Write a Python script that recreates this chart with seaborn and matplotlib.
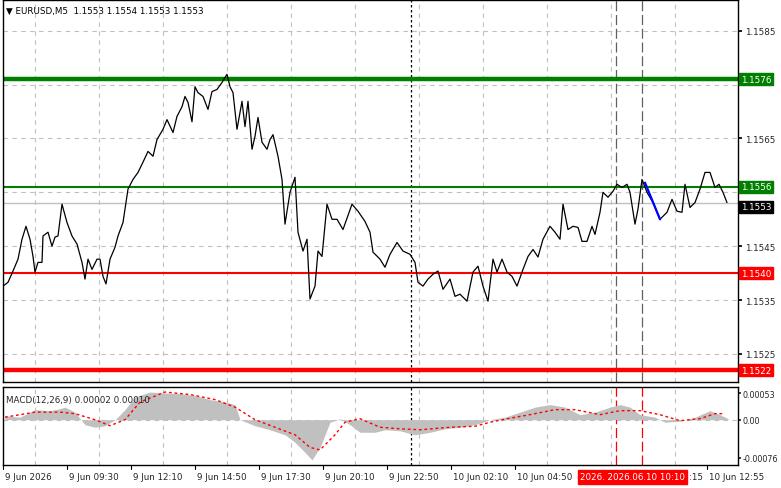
import matplotlib
matplotlib.use("Agg")
import matplotlib.pyplot as plt
import matplotlib.transforms as mtrans
import seaborn as sns
import pandas as pd
import numpy as np

sns.set_theme(style="white")
plt.rcParams['font.family'] = ['DejaVu Sans']

# ---- price data (bar index, close) ----
bars = [0,2.5,5,7.5,9.5,11.5,13.5,15,16,17.5,19.5,20,22.5,24.5,26,27.5,29.5,32,34.5,37,39.5,41,42.5,44.5,47,48.5,50,51.5,53.5,56,
        57.5,60,62.5,65,67.5,70,72.5,75,77,80,82,85,87,89.5,91,92.5,94.5,96,97.5,100,102.5,104.5,107,109.5,112,113.5,115,117,119.5,121,
        122.5,124.5,126,127.5,129.5,132,133.5,135,137.5,139.5,141,143.5,146,147.5,150,152,153.5,156,157.5,159.5,162,164.5,167,170,174.5,177.5,181,183.5,185,188.5,
        191,193.5,197,200,203.5,206,207.5,210,212.5,215,217.5,220,223.5,226,228.5,232,235,237.5,240,242.5,245,247,249.5,252,254.5,257,260,262.5,265,267.5,
        270,273.5,276,278.5,280,282.5,285,287.5,289.5,292,294.5,296,298.5,300,302.5,305,307,309.5,312,313.5,316,317.5,319.5,322,325,328.5,332,334.5,337,339.5,
        341,343.5,346,348.5,351,353.5,356,358,360,362]
close = [1.15376,1.15383,1.15404,1.15426,1.15463,1.15487,1.15463,1.15431,1.15402,1.15420,
         1.15420,1.15469,1.15476,1.15450,1.15467,1.15469,1.15528,1.15494,1.15469,1.15454,
         1.15420,1.15389,1.15426,1.15407,1.15426,1.15426,1.15394,1.15380,1.15426,1.15448,
         1.15469,1.15494,1.15556,1.15574,1.15587,1.15606,1.15626,1.15617,1.15648,1.15667,
         1.15685,1.15661,1.15691,1.15709,1.15728,1.15717,1.15681,1.15746,1.15735,1.15728,
         1.15704,1.15737,1.15741,1.15754,1.15769,1.15746,1.15735,1.15667,1.15719,1.15672,
         1.15719,1.15630,1.15654,1.15689,1.15643,1.15630,1.15648,1.15657,1.15617,1.15574,
         1.15491,1.15550,1.15578,1.15476,1.15441,1.15463,1.15352,1.15376,1.15441,1.15431,
         1.15528,1.15500,1.15500,1.15481,1.15528,1.15515,1.15496,1.15476,1.15439,1.15426,
         1.15411,1.15435,1.15457,1.15441,1.15435,1.15420,1.15383,1.15376,1.15389,1.15398,
         1.15404,1.15370,1.15389,1.15357,1.15361,1.15348,1.15402,1.15413,1.15376,1.15348,
         1.15426,1.15402,1.15426,1.15402,1.15394,1.15376,1.15407,1.15431,1.15444,1.15430,
         1.15463,1.15487,1.15476,1.15463,1.15528,1.15481,1.15487,1.15485,1.15459,1.15459,
         1.15487,1.15472,1.15513,1.15550,1.15541,1.15552,1.15565,1.15559,1.15565,1.15550,
         1.15491,1.15519,1.15574,1.15550,1.15531,1.15500,1.15513,1.15537,1.15515,1.15513,
         1.15565,1.15522,1.15531,1.15556,1.15587,1.15587,1.15559,1.15565,1.15550,1.15531]

levels_thick_green = 1.1576
level_green = 1.1556
level_red = 1.1540
level_thick_red = 1.1522
last_price = 1.1553
blue_bars = [321, 328.5]
blue_prices = [1.15568, 1.15500]
price_ticks = [1.1525, 1.1535, 1.1545, 1.1565, 1.1585]
price_grid = [1.1525, 1.1535, 1.1545, 1.1555, 1.1565, 1.1575, 1.1585]

# ---- MACD data ----
macd_bars = [1,8.5,16,23.5,28.5,31,36,41,46,51,56,61,66,73.5,81,88.5,96,103.5,111,116,118.5,126,133.5,141,146,151,154.5,158.5,163.5,168.5,
             173.5,178.5,186,191,198.5,206,213.5,221,228.5,236,243.5,251,258.5,266,273.5,281,288.5,296,303.5,308.5,313.5,318.5,326,331,338.5,346,353.5,358.5,362.5]
macd_hist = [0.00008,0.00005,0.00020,0.00018,0.00022,0.00025,0.00015,-0.00010,-0.00015,-0.00012,0.0,0.00020,0.00045,0.00055,0.00053,0.00052,0.00048,0.00040,0.00035,0.00030,
             0.0,-0.00012,-0.00020,-0.00030,-0.00045,-0.00065,-0.00080,-0.00055,-0.00005,0.00002,
             -0.00010,-0.00025,-0.00025,-0.00020,-0.00022,-0.00030,-0.00025,-0.00018,-0.00015,-0.00010,0.0,0.00005,0.00015,0.00025,0.00030,0.00025,0.00010,0.00015,0.00025,0.00030,
             0.00025,0.00010,0.00005,-0.00005,-0.00003,0.00005,0.00018,0.00010,0.00002]
sig_bars = [1,16,28.5,36,46,53.5,61,68.5,81,93.5,106,116,126,136,146,153.5,158.5,166,171,178.5,188.5,198.5,208.5,223.5,236,243.5,253.5,263.5,276,286,298.5,308.5,318.5,328.5,338.5,348.5,356,361]
sig_vals = [0.00005,0.00015,0.00015,0.00012,0.0,-0.00012,0.0,0.00035,0.00055,0.00050,0.00040,0.00025,0.0,-0.00015,-0.00030,-0.00055,-0.00060,-0.00030,-0.00005,0.00002,
            -0.00015,-0.00018,-0.00020,-0.00015,-0.00013,-0.00005,0.00003,0.00010,0.00020,0.00020,0.00010,0.00018,0.00018,0.00010,-0.00002,0.00002,0.00012,0.00012]

tick_bars = [0,32,64,96,128,160,192,224,256,352]
tick_labels = ["9 Jun 2026","9 Jun 09:30","9 Jun 12:10","9 Jun 14:50","9 Jun 17:30","9 Jun 20:10",
               "9 Jun 22:50","10 Jun 02:10","10 Jun 04:50","10 Jun 12:55"]

W, H = 781, 489
FS = 6.3
fig = plt.figure(figsize=(W/100, H/100), dpi=100)
fig.patch.set_facecolor("white")
ax = fig.add_axes([3/W, 1-383/H, 735/W, 382/H])
ax2 = fig.add_axes([3/W, 1-466/H, 735/W, 78/H])

XMAX = 367.5
for a in (ax, ax2):
    a.set_xlim(0, XMAX)
    for s in a.spines.values():
        s.set_color("black"); s.set_linewidth(1)
    a.set_facecolor("white")
    for gb in range(16, 368, 32):
        a.axvline(gb, color="#c0c0c0", lw=0.8, ls=(0, (4, 4)), zorder=0)
    a.set_xticks([])

ax.set_ylim(1.15198, 1.15907)
for p in price_grid:
    ax.axhline(p, color="#c0c0c0", lw=0.8, ls=(0, (4, 4)), zorder=0)
ax.yaxis.tick_right()
ax.set_yticks(price_ticks)
ax.set_yticklabels([f"{p:.4f}" for p in price_ticks], fontsize=FS)
ax.tick_params(axis="y", length=3, pad=2, color="black")

ax.axhline(levels_thick_green, color="#007f00", lw=3.2, zorder=2)
ax.axhline(level_green, color="#007f00", lw=1.5, zorder=2)
ax.axhline(level_red, color="#ff0000", lw=1.5, zorder=2)
ax.axhline(level_thick_red, color="#ff0000", lw=3.2, zorder=2)
ax.axhline(last_price, color="#c0c0c0", lw=1, zorder=1)

ax.axvline(204, color="black", lw=0.9, ls=(0, (2, 2)), zorder=1)
for vb in (306.5, 319.5):
    ax.axvline(vb, color="#606060", lw=0.9, ls=(0, (8, 3)), zorder=1)
    ax2.axvline(vb, color="#ff0000", lw=0.9, ls=(0, (8, 3)), zorder=1)
ax2.axvline(204, color="black", lw=0.9, ls=(0, (2, 2)), zorder=1)

df = pd.DataFrame({"bar": bars, "close": close})
sns.lineplot(data=df, x="bar", y="close", ax=ax, color="black", lw=0.9, zorder=3)
ax.plot(blue_bars, blue_prices, color="#0000ff", lw=1.6, zorder=4)
ax.set_xlabel(""); ax.set_ylabel("")

trans = mtrans.blended_transform_factory(ax.transAxes, ax.transData)
for val, fc, tc in [(levels_thick_green, "#007f00", "white"), (level_green, "#007f00", "white"),
                    (last_price, "black", "white"), (level_red, "#ff0000", "white"),
                    (level_thick_red, "#ff0000", "white")]:
    off = -0.00007 if val == last_price else 0
    ax.text(1.004, val + off, f"{val:.4f}", transform=trans, fontsize=FS, color=tc, va="center", ha="left",
            bbox=dict(boxstyle="square,pad=0.18", fc=fc, ec=fc), zorder=10, clip_on=False)

ax.text(0.004, 0.985, "\u25bc EURUSD,M5  1.1553 1.1554 1.1553 1.1553", transform=ax.transAxes, fontsize=FS,
        va="top", ha="left", color="black")

# MACD
ax2.set_ylim(-0.00090, 0.00065)
ax2.axhline(0, color="#c0c0c0", lw=0.8, ls=(0, (4, 4)), zorder=0)
ax2.fill_between(macd_bars, macd_hist, 0, color="#c0c0c0", lw=0, zorder=1)
sdf = pd.DataFrame({"bar": sig_bars, "sig": sig_vals})
sns.lineplot(data=sdf, x="bar", y="sig", ax=ax2, color="#ff0000", lw=1, ls=(0, (2, 2)), zorder=3)
ax2.set_xlabel(""); ax2.set_ylabel("")
ax2.yaxis.tick_right()
ax2.set_yticks([0.00053, 0.0, -0.00076])
ax2.set_yticklabels(["0.00053", "0.00", "-0.00076"], fontsize=5.8)
ax2.tick_params(axis="y", length=2, pad=1)
ax2.text(0.004, 0.9, "MACD(12,26,9) 0.00002 0.00010", transform=ax2.transAxes, fontsize=FS, va="top", ha="left")

# bottom time labels
trans2 = mtrans.blended_transform_factory(ax2.transData, fig.transFigure)
for b, lab in zip(tick_bars, tick_labels):
    ax2.text(b + 1, 1 - 478/H, lab, transform=trans2, fontsize=FS, ha="left", va="center", clip_on=False)
    ax2.plot([b, b], [1 - 466/H, 1 - 470/H], transform=trans2, color="black", lw=0.8, clip_on=False)
ax2.text(343, 1 - 478/H, ":15", transform=trans2, fontsize=FS, ha="left", va="center", clip_on=False)
ax2.text(288.5, 1 - 478/H, "2026. 2026.06.10 10:10", transform=trans2, fontsize=FS, ha="left", va="center",
         color="white", clip_on=False, bbox=dict(boxstyle="square,pad=0.25", fc="#ff0000", ec="#ff0000"), zorder=10)

fig.savefig("out.png", dpi=100, facecolor="white")
